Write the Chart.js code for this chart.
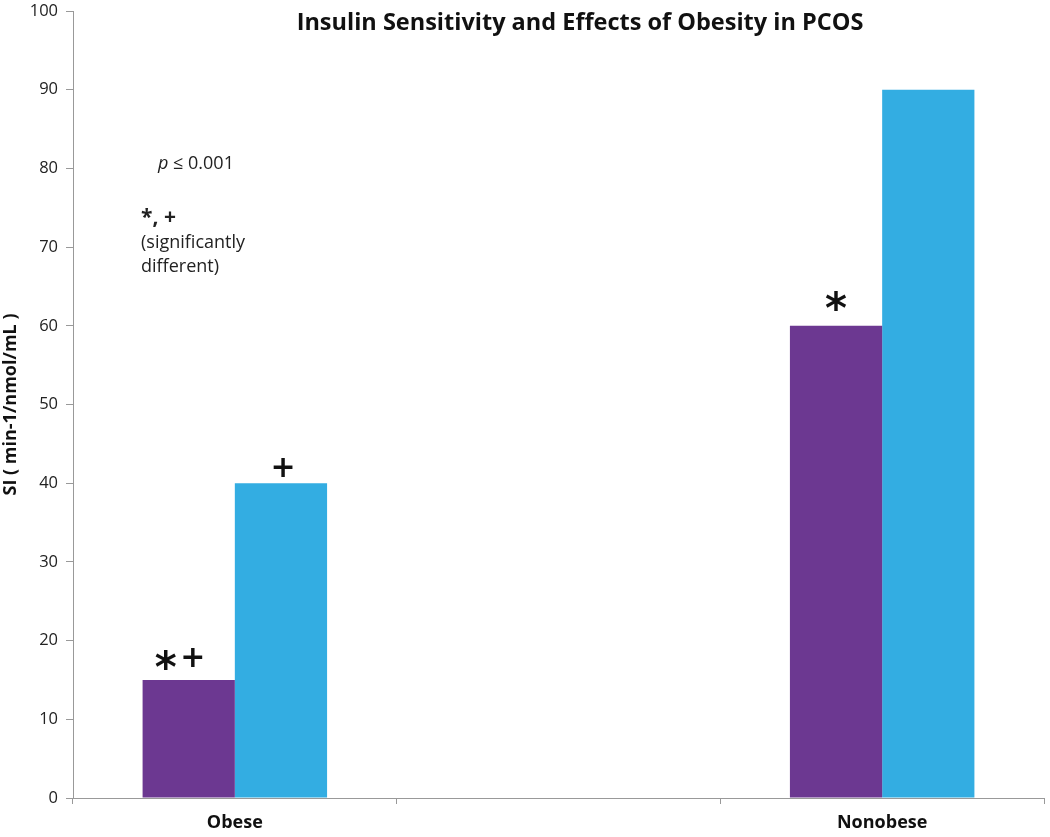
<!DOCTYPE html>
<html>
<head>
<meta charset="utf-8">
<script src="https://cdn.jsdelivr.net/npm/chart.js@4.4.1/dist/chart.umd.min.js"></script>
<style>
  html, body { margin: 0; padding: 0; background: #fff; }
  #wrap { width: 1050px; height: 837px; position: relative; }
</style>
</head>
<body>
<div id="wrap"><canvas id="chart"></canvas></div>
<script>
// data
const categories = ["Obese", "", "Nonobese"];
const purpleValues = [15, null, 60];
const blueValues = [40, null, 90];
const yTicks = [0, 10, 20, 30, 40, 50, 60, 70, 80, 90, 100];

// significance marks: [dataset, index, glyph, dx, dy above bar top]
const marks = [
  [0, 0, "*", -23, 20],
  [0, 0, "+", 4, 23],
  [1, 0, "+", 2, 16],
  [0, 2, "*", 0, 25]
];

const FONT = "'Open Sans', sans-serif";

// draw text centred on (x, y) using its real ink box
function inkCentered(c, t, x, y) {
  const m = c.measureText(t);
  const w = m.actualBoundingBoxRight + m.actualBoundingBoxLeft;
  const base = y + (m.actualBoundingBoxAscent - m.actualBoundingBoxDescent) / 2;
  c.fillText(t, x - w / 2 + m.actualBoundingBoxLeft, base);
}

const overlay = {
  id: "overlay",
  afterDatasetsDraw(chart) {
    const c = chart.ctx;
    c.save();
    c.fillStyle = "#111";
    c.textAlign = "left";
    c.textBaseline = "alphabetic";
    marks.forEach(([ds, i, t, dx, dy]) => {
      const bar = chart.getDatasetMeta(ds).data[i];
      c.font = t === "*" ? "bold 42px 'DejaVu Sans'" : "bold 30px 'DejaVu Sans'";
      inkCentered(c, t, bar.x + dx, bar.y - dy);
    });

    // title
    c.font = "bold 23.5px " + FONT;
    c.textAlign = "center";
    c.textBaseline = "middle";
    c.fillText("Insulin Sensitivity and Effects of Obesity in PCOS", 580, 23);

    // notes
    c.textAlign = "left";
    c.fillStyle = "#222";
    c.font = "italic 18px " + FONT;
    c.fillText("p", 158, 164);
    const pw = c.measureText("p ").width;
    c.font = "18px " + FONT;
    c.fillText("\u2264 0.001", 158 + pw, 164);
    c.font = "bold 21px " + FONT;
    c.fillText("*, +", 141, 218);
    c.font = "18px " + FONT;
    c.fillText("(significantly", 141, 243);
    c.fillText("different)", 141, 267);
    c.restore();
  }
};

new Chart(document.getElementById("chart"), {
  type: "bar",
  data: {
    labels: categories,
    datasets: [
      { data: purpleValues, backgroundColor: "#6C3891", barPercentage: 1, categoryPercentage: 0.57 },
      { data: blueValues, backgroundColor: "#33ADE2", barPercentage: 1, categoryPercentage: 0.57 }
    ]
  },
  options: {
    responsive: true,
    maintainAspectRatio: false,
    animation: false,
    layout: { padding: { top: 11, right: 6, left: 0, bottom: 0 } },
    plugins: { legend: { display: false }, tooltip: { enabled: false } },
    scales: {
      x: {
        grid: { display: true, drawOnChartArea: false, offset: true, color: "#999", tickLength: 6 },
        border: { color: "#999" },
        ticks: { color: "#111", font: { family: FONT, size: 18, weight: "bold" }, padding: 8 },
        afterFit(s) { s.height = 39; s.paddingLeft = 0; s.paddingRight = 0; }
      },
      y: {
        min: 0,
        max: 100,
        afterBuildTicks(s) { s.ticks = yTicks.map(v => ({ value: v })); },
        grid: { display: true, drawOnChartArea: false, color: "#999", tickLength: 7 },
        border: { color: "#999" },
        ticks: { color: "#222", font: { family: FONT, size: 16.5 }, padding: 8 },
        title: { display: true, text: "SI ( min-1/nmol/mL )", color: "#111", font: { family: FONT, size: 18, weight: "bold" }, padding: { top: 0, bottom: 0 } },
        afterFit(s) { s.width = 73; s.paddingTop = 0; s.paddingBottom = 0; }
      }
    }
  },
  plugins: [overlay]
});
</script>
</body>
</html>
